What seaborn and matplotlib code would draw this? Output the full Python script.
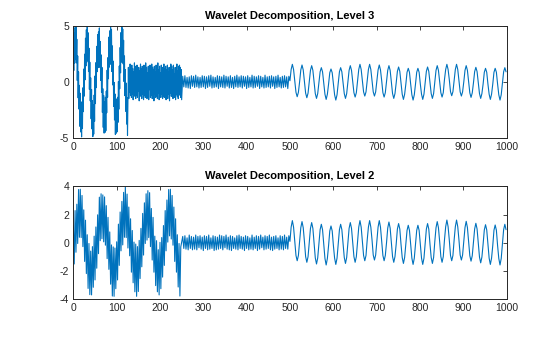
import numpy as np
import pandas as pd
import matplotlib
matplotlib.use("Agg")
import matplotlib.pyplot as plt
import seaborn as sns

# ---------------- data ----------------
titles = ["Wavelet Decomposition, Level 3", "Wavelet Decomposition, Level 2"]
x_ticks = [0, 100, 200, 300, 400, 500, 600, 700, 800, 900, 1000]
l3_yticks = [-5, 0, 5]
l2_yticks = [-4, -2, 0, 2, 4]

# Level 3 -- samples 0..126
l3_seg1_t = np.arange(0, 127)
l3_seg1_v = [3.08, 1.01, 4.42, 1.67, 4.87, 1.99, 4.93, 1.70, 3.82, 0.12,
             2.32, -1.44, 0.90, -2.44, -0.31, -3.98, -1.02, -4.49, -1.90, -4.93,
             -1.78, -4.18, -0.53, -2.67, 1.15, -1.28, 2.48,
             0.18, 3.91, 1.42, 4.67, 1.77, 5.09, 1.93, 4.40, 0.92, 3.02,
             -0.68, 1.76, -1.70, 0.36, -3.31, -0.68, -4.22, -1.69, -4.90, -2.03,
             -4.68, -1.18, -3.53, 0.53, -1.95, 1.72, -0.52,
             3.18, 0.91, 4.22, 1.27, 4.47, 1.89, 4.83, 1.30, 3.62, 0.12,
             2.42, -0.94, 1.30, -2.74, -0.61, -4.08, -1.22, -4.59, -1.80, -4.53,
             -1.38, -4.38, -0.83, -2.77, 1.05, -1.38, 2.18,
             0.28, 4.01, 1.32, 4.57, 1.57, 4.89, 1.93, 4.70, 0.92, 3.22,
             -0.28, 1.86, -2.20, -0.04, -3.41, -1.08, -4.72, -1.59, -4.60, -1.53,
             -4.48, -1.38, -3.63, 0.03, -2.45, 1.42, -0.62,
             3.08, 0.81, 4.42, 1.77, 5.07, 1.79, 4.73, 1.60, 3.72, 0.02,
             2.32, -1.24, 1.10, -2.64, -0.11, -3.78, -1.42, -4.79, -1.60]
# Level 3 -- samples 127..250
l3_seg2_t = np.arange(127, 251)
l3_seg2_v = [1.3, -1.5, 1.1, -0.9, 1.6, -1.2, 0.8, -1.4, 1.5, -1.1,
             1.2, -1.6, 0.9, -1.3, 1.7, -1.0, 1.4, -1.5, 0.7, -1.2,
             1.5, -1.4, 1.1, -0.8, 1.3, -1.7, 1.0, -1.3, 1.6, -0.9,
             1.2, -1.5, 1.4, -1.1, 0.9, -1.6, 1.5, -1.2, 1.1, -1.4,
             1.7, -1.0, 1.3, -1.5, 0.8, -1.3, 1.4, -1.6, 1.2, -0.7,
             1.5, -1.4, 1.0, -1.2, 1.6, -1.5, 1.3, -0.9, 1.1, -1.7,
             1.4, -1.1, 0.9, -1.4, 1.5, -1.3, 1.2, -1.5, 1.7, -1.0,
             1.1, -1.6, 1.4, -1.2, 0.8, -1.4, 1.5, -1.1, 1.3, -1.5,
             1.0, -1.3, 1.6, -1.4, 1.2, -0.8, 1.4, -1.6, 1.1, -1.2,
             1.5, -1.5, 0.9, -1.1, 1.3, -1.7, 1.2, -1.0, 1.6, -1.3,
             1.4, -0.9, 1.1, -1.5, 1.5, -1.2, 0.7, -1.4, 1.3, -1.6,
             1.2, -1.1, 1.6, -1.3, 1.0, -1.5, 1.4, -1.2, 1.5, -0.9,
             1.3, -1.4, 1.1, -1.6]
# Level 3 -- samples 252.5..497.5 (step 2.5)
l3_seg3_t = np.linspace(252.5, 497.5, 99)
l3_seg3_v = [0.50, -0.45, 0.55, -0.50, 0.40, -0.55, 0.45, -0.60, 0.55, -0.40,
             0.50, -0.50, 0.60, -0.45, 0.45, -0.55, 0.40, -0.50, 0.55, -0.45,
             0.50, -0.60, 0.45, -0.50, 0.55, -0.40, 0.60, -0.55, 0.45, -0.50,
             0.40, -0.45, 0.55, -0.60, 0.50, -0.45, 0.45, -0.50, 0.60, -0.55,
             0.50, -0.40, 0.45, -0.55, 0.55, -0.50, 0.40, -0.60, 0.50, -0.45,
             0.60, -0.50, 0.45, -0.45, 0.55, -0.55, 0.50, -0.40, 0.45, -0.60,
             0.55, -0.50, 0.40, -0.45, 0.60, -0.55, 0.50, -0.50, 0.45, -0.40,
             0.55, -0.60, 0.50, -0.45, 0.40, -0.55, 0.60, -0.50, 0.45, -0.45,
             0.50, -0.55, 0.55, -0.40, 0.45, -0.60, 0.50, -0.50, 0.60, -0.45,
             0.40, -0.55, 0.50, -0.50, 0.55, -0.45, 0.45, -0.60, 0.50]
# Level 3 -- samples 500..999 (oscillation, 8 readings per cycle)
l3_seg4_t = np.linspace(500, 998.9, 180)
l3_seg4_v = [0.1, 1.11, 1.57, 1.11, 0.1, -0.94, -1.33, -0.94,
             0.0, 1.07, 1.51, 1.07, 0.0, -1.01, -1.42, -1.01,
             0.0, 1.03, 1.45, 1.03, 0.0, -1.05, -1.48, -1.05,
             -0.1, 0.90, 1.27, 0.90, -0.1, -1.11, -1.57, -1.11,
             -0.2, 0.82, 1.15, 0.82, -0.2, -1.16, -1.63, -1.16,
             -0.1, 0.90, 1.27, 0.90, -0.1, -1.05, -1.48, -1.05,
             0.0, 1.03, 1.45, 1.03, 0.0, -0.97, -1.36, -0.97,
             0.1, 1.11, 1.57, 1.11, 0.1, -0.90, -1.27, -0.90,
             0.1, 1.11, 1.57, 1.11, 0.1, -0.90, -1.27, -0.90,
             0.1, 1.07, 1.51, 1.07, 0.1, -0.97, -1.36, -0.97,
             0.0, 1.03, 1.45, 1.03, 0.0, -1.05, -1.48, -1.05,
             -0.1, 0.94, 1.33, 0.94, -0.1, -1.11, -1.57, -1.11,
             -0.2, 0.86, 1.21, 0.86, -0.2, -1.16, -1.63, -1.16,
             -0.2, 0.86, 1.21, 0.86, -0.2, -1.11, -1.57, -1.11,
             -0.1, 0.94, 1.33, 0.94, -0.1, -1.05, -1.48, -1.05,
             0.0, 1.03, 1.45, 1.03, 0.0, -0.97, -1.36, -0.97,
             0.2, 1.11, 1.57, 1.11, 0.2, -0.88, -1.24, -0.88,
             0.1, 1.11, 1.57, 1.11, 0.1, -0.90, -1.27, -0.90,
             0.0, 1.03, 1.45, 1.03, 0.0, -0.99, -1.39, -0.99,
             -0.1, 0.92, 1.30, 0.92, -0.1, -1.05, -1.48, -1.05,
             -0.2, 0.86, 1.21, 0.86, -0.2, -1.11, -1.57, -1.11,
             -0.2, 0.86, 1.21, 0.86, -0.2, -1.16, -1.63, -1.16,
             -0.1, 0.90, 1.27, 0.90]

# Level 2 -- samples 0..248 (step 2)
l2_seg1_t = np.arange(0, 250, 2)
l2_seg1_v = [1.22, -1.50, 2.28, -0.67, 2.73, -0.05, 3.77, 0.39, 3.79, 0.37,
             3.35, -0.27, 2.33, -1.32, 1.60, -2.18, 0.57, -3.23, -0.05, -3.67,
             -0.59, -3.69, -0.27, -3.15, 0.47, -2.63,
             1.12, -1.80, 1.98, -0.77, 3.23, 0.15, 3.47, 0.29, 3.39, 0.07,
             3.25, -0.17, 2.63, -1.12, 1.80, -1.88, 0.77, -2.93, -0.15, -3.77,
             -0.29, -3.79, -0.37, -3.25, 0.07, -2.63,
             1.32, -1.60, 2.18, -0.57, 2.93, -0.15, 3.57, 0.39, 3.99, 0.37,
             3.45, -0.37, 2.53, -0.92, 1.70, -2.08, 0.87, -2.83, 0.05, -3.47,
             -0.09, -3.79, -0.27, -3.45, 0.17, -2.53,
             1.02, -1.70, 2.08, -0.87, 2.83, -0.05, 3.47, 0.19, 3.69, 0.37,
             3.55, -0.27, 2.43, -1.22, 1.80, -2.08, 0.47, -3.03, 0.15, -3.47,
             -0.49, -3.69, 0.03, -3.25, 0.37, -2.43,
             1.22, -1.60, 2.28, -0.57, 3.03, 0.05, 3.77, 0.49, 3.79, 0.27,
             3.35, -0.17, 2.53, -1.32, 1.70, -2.08, 0.57, -3.13, -0.05, -3.77,
             -0.29]
# Level 2 -- samples 252.5..497.5 (step 2.5)
l2_seg2_t = np.linspace(252.5, 497.5, 99)
l2_seg2_v = [0.45, -0.40, 0.50, -0.45, 0.35, -0.50, 0.55, -0.40, 0.45, -0.50,
             0.40, -0.45, 0.55, -0.50, 0.45, -0.35, 0.50, -0.45, 0.40, -0.55,
             0.50, -0.40, 0.45, -0.50, 0.55, -0.45, 0.35, -0.40, 0.50, -0.55,
             0.45, -0.50, 0.40, -0.45, 0.55, -0.40, 0.50, -0.50, 0.45, -0.35,
             0.55, -0.45, 0.40, -0.50, 0.50, -0.55, 0.45, -0.40, 0.35, -0.45,
             0.50, -0.50, 0.55, -0.40, 0.45, -0.45, 0.40, -0.55, 0.50, -0.40,
             0.45, -0.50, 0.35, -0.45, 0.55, -0.50, 0.40, -0.40, 0.50, -0.55,
             0.45, -0.45, 0.55, -0.35, 0.40, -0.50, 0.50, -0.45, 0.45, -0.40,
             0.55, -0.50, 0.40, -0.55, 0.45, -0.45, 0.50, -0.40, 0.35, -0.50,
             0.50, -0.45, 0.45, -0.50, 0.55, -0.40, 0.40, -0.45, 0.50]
# Level 2 -- samples 500..999 (oscillation, 8 readings per cycle)
l2_seg3_t = np.linspace(500, 998.9, 180)
l2_seg3_v = [0.1, 1.11, 1.57, 1.11, 0.1, -0.90, -1.27, -0.90,
             0.1, 1.07, 1.50, 1.07, 0.1, -0.98, -1.38, -0.98,
             0.0, 1.02, 1.43, 1.02, 0.0, -1.07, -1.50, -1.07,
             -0.1, 0.93, 1.31, 0.93, -0.1, -1.11, -1.57, -1.11,
             -0.2, 0.84, 1.19, 0.84, -0.2, -1.09, -1.53, -1.09,
             -0.1, 0.93, 1.31, 0.93, -0.1, -1.04, -1.46, -1.04,
             0.0, 1.02, 1.43, 1.02, 0.0, -0.98, -1.38, -0.98,
             0.1, 1.11, 1.57, 1.11, 0.1, -0.90, -1.27, -0.90,
             0.2, 1.11, 1.57, 1.11, 0.2, -0.87, -1.22, -0.87,
             0.1, 1.11, 1.57, 1.11, 0.1, -0.90, -1.27, -0.90,
             0.0, 1.04, 1.47, 1.04, 0.0, -0.98, -1.38, -0.98,
             -0.1, 0.97, 1.36, 0.97, -0.1, -1.04, -1.46, -1.04,
             -0.1, 0.88, 1.24, 0.88, -0.1, -1.09, -1.53, -1.09,
             -0.1, 0.88, 1.24, 0.88, -0.1, -1.09, -1.53, -1.09,
             -0.1, 0.97, 1.36, 0.97, -0.1, -1.04, -1.46, -1.04,
             0.1, 1.07, 1.50, 1.07, 0.1, -0.98, -1.38, -0.98,
             0.2, 1.14, 1.61, 1.14, 0.2, -0.90, -1.27, -0.90,
             0.2, 1.14, 1.61, 1.14, 0.2, -0.87, -1.22, -0.87,
             0.1, 1.08, 1.52, 1.08, 0.1, -0.92, -1.30, -0.92,
             0.0, 0.98, 1.38, 0.98, 0.0, -1.01, -1.42, -1.01,
             -0.1, 0.91, 1.28, 0.91, -0.1, -1.09, -1.53, -1.09,
             -0.2, 0.89, 1.26, 0.89, -0.2, -1.11, -1.57, -1.11,
             -0.1, 0.93, 1.31, 0.93]

# ---------------- assemble ----------------
l3 = pd.DataFrame({
    "t": np.concatenate([l3_seg1_t, l3_seg2_t, l3_seg3_t, l3_seg4_t]),
    "v": np.concatenate([l3_seg1_v, l3_seg2_v, l3_seg3_v, l3_seg4_v]),
})
l2 = pd.DataFrame({
    "t": np.concatenate([l2_seg1_t, l2_seg2_t, l2_seg3_t]),
    "v": np.concatenate([l2_seg1_v, l2_seg2_v, l2_seg3_v]),
})

# ---------------- style ----------------
sns.set_theme(style="white")
plt.rcParams["font.family"] = ["Liberation Sans", "DejaVu Sans"]
line_color = "#0072BD"
axis_color = "#262626"

fig = plt.figure(figsize=(5.6, 3.37), dpi=100)
ax_top = fig.add_axes([0.131, 0.5914, 0.7735, 0.3314])
ax_bot = fig.add_axes([0.131, 0.1119, 0.7735, 0.3353])

for ax, df, yt, title in [(ax_top, l3, l3_yticks, titles[0]),
                          (ax_bot, l2, l2_yticks, titles[1])]:
    sns.lineplot(data=df, x="t", y="v", ax=ax, color=line_color,
                 linewidth=0.8, estimator=None, sort=False)
    ax.set_xlim(0, 1000)
    ax.set_ylim(yt[0], yt[-1])
    ax.set_xticks(x_ticks)
    ax.set_yticks(yt)
    ax.set_xticklabels([str(v) for v in x_ticks])
    ax.set_yticklabels([str(v) for v in yt])
    ax.set_xlabel("")
    ax.set_ylabel("")
    ax.tick_params(direction="in", top=True, right=True, length=3, width=0.6,
                   labelsize=7.5, colors=axis_color, pad=3)
    for s in ax.spines.values():
        s.set_visible(True)
        s.set_color(axis_color)
        s.set_linewidth(0.7)
    ax.set_title(title, fontsize=8, fontweight="bold", color="black", pad=5)

fig.savefig("out.png", dpi=100, facecolor="white")
